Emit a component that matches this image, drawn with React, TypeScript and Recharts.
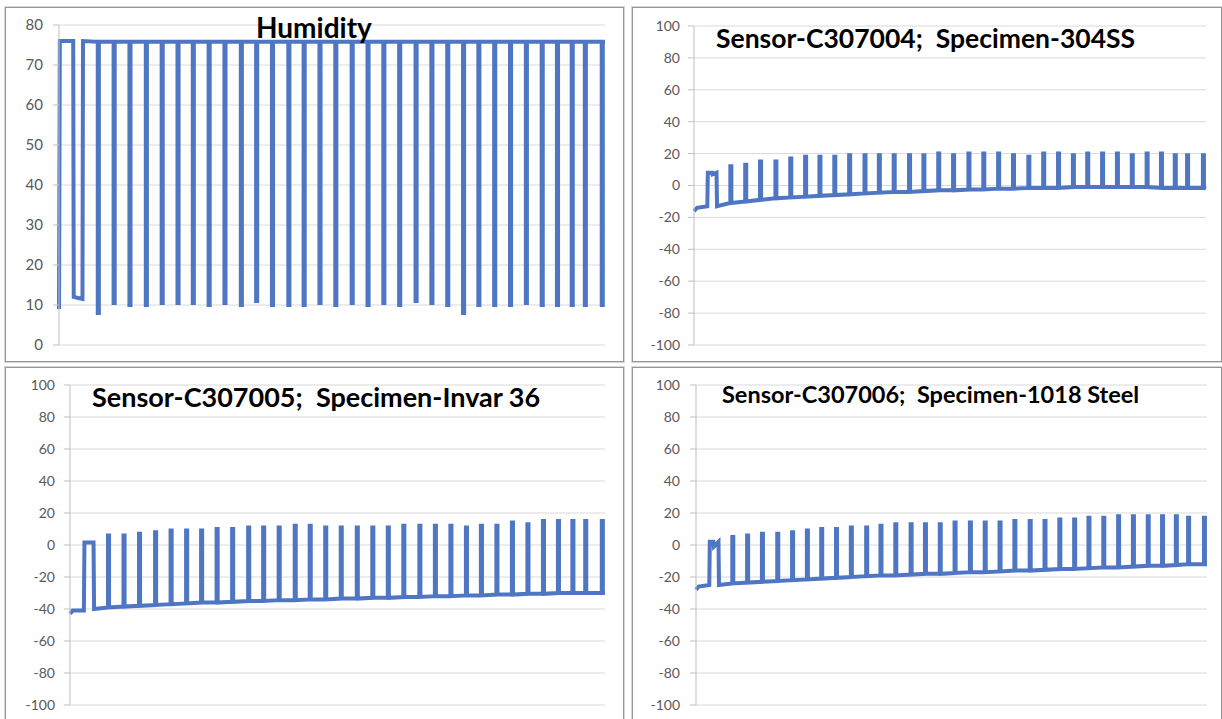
import React from 'react';
import { LineChart, Line, XAxis, YAxis, CartesianGrid } from 'recharts';

// times of the wet/dry cycles, in percent of the whole run (same for all four traces)
const cycleTimes = [
  7.2, 10.1, 13.0, 16.0, 18.9, 21.8, 24.6, 27.5, 30.4, 33.4, 36.2, 39.1, 42.1, 44.9, 47.8, 50.7, 53.7,
  56.6, 59.5, 62.4, 65.4, 68.3, 71.2, 74.1, 76.9, 79.8, 82.7, 85.6, 88.5, 91.3, 94.0, 96.4, 99.5,
];
const pulseWidth = 0.2;

// Humidity
const humidityLeadT = [0, 0.15, 2.6, 2.7, 4.3, 4.4];
const humidityLeadV = [9, 76, 76, 12, 11.5, 76];
const humidityHigh = 75.8;
const humidityLows = [
  8, 10.5, 10, 10, 10.5, 10.5, 10.5, 10, 10.5, 10, 11, 10, 10, 10, 10.5, 10, 10.5, 10, 10.5, 10, 11,
  10.5, 10, 8, 10, 10, 10, 10.5, 10, 10, 10, 10, 10,
];
const humidityTicks = [0, 10, 20, 30, 40, 50, 60, 70, 80];

// Sensor-C307004 / 304SS
const ss304LeadT = [0, 0.6, 2.6, 2.7, 3.5, 3.6, 4.4, 4.5];
const ss304LeadV = [-16, -14, -13, 8, 8, 7, 8, -13];
const ss304Base = [
  -11, -10, -9, -8, -7.5, -7, -6.5, -6, -5.5, -5, -4.5, -4, -4, -3.5, -3, -3, -2.5, -2.5, -2, -2, -1.5,
  -1.5, -1.5, -1, -1, -1, -1, -1, -1, -1.5, -1.5, -1.5, -1.5,
];
const ss304Peak = [
  12, 13, 15, 15, 17, 18, 18, 18, 19, 19, 19, 19, 19, 19, 20, 19, 20, 20, 20, 19, 18, 20, 20, 19, 20,
  20, 20, 19, 20, 20, 19, 19, 19,
];

// Sensor-C307005 / Invar 36
const invarLeadT = [0, 0.5, 2.6, 2.7, 4.4, 4.5];
const invarLeadV = [-43, -41, -41, 1.5, 1.5, -40];
const invarBase = [
  -39, -38.5, -38, -37.5, -37, -36.5, -36, -36, -35.5, -35, -35, -34.5, -34.5, -34, -34, -33.5, -33.5,
  -33, -33, -32.5, -32.5, -32, -32, -31.5, -31.5, -31, -31, -30.5, -30.5, -30, -30, -30, -30,
];
const invarPeak = [
  6, 6, 7, 8, 9, 9, 9, 10, 10, 11, 11, 11, 12, 12, 11, 11, 11, 11, 11, 12, 12, 12, 12, 11, 12, 12, 14,
  13, 15, 15, 15, 15, 15,
];

// Sensor-C307006 / 1018 Steel
const steelLeadT = [0, 0.5, 2.6, 2.7, 3.4, 3.5, 4.4, 4.5];
const steelLeadV = [-28, -26, -25, 2, 2, -1, 2, -25];
const steelBase = [
  -24, -23.5, -23, -22.5, -22, -21.5, -21, -20.5, -20, -19.5, -19, -19, -18.5, -18, -18, -17.5, -17,
  -17, -16.5, -16, -16, -15.5, -15, -15, -14.5, -14, -14, -13.5, -13, -13, -12.5, -12, -12,
];
const steelPeak = [
  5, 6, 7, 7, 8, 9, 10, 10, 11, 11, 12, 13, 13, 13, 13, 14, 14, 14, 14, 15, 15, 15, 16, 16, 17, 17, 18,
  18, 18, 18, 18, 17, 17,
];

const sensorTicks = [-100, -80, -60, -40, -20, 0, 20, 40, 60, 80, 100];

type Pt = { t: number; v: number };

function buildTrace(leadT: number[], leadV: number[], base: number[], peak: number[], endV: number): Pt[] {
  const pts: Pt[] = leadT.map((t, i) => ({ t, v: leadV[i] }));
  cycleTimes.forEach((tc, i) => {
    const a = tc - pulseWidth / 2;
    const b = Math.min(tc + pulseWidth / 2, 100);
    pts.push({ t: a, v: base[i] }, { t: a, v: peak[i] }, { t: b, v: peak[i] }, { t: b, v: base[i] });
  });
  pts.push({ t: 100, v: endV });
  return pts;
}

const humidityData = buildTrace(
  humidityLeadT,
  humidityLeadV,
  humidityLows.map(() => humidityHigh),
  humidityLows,
  humidityHigh
);
const ss304Data = buildTrace(ss304LeadT, ss304LeadV, ss304Base, ss304Peak, -2);
const invarData = buildTrace(invarLeadT, invarLeadV, invarBase, invarPeak, -30);
const steelData = buildTrace(steelLeadT, steelLeadV, steelBase, steelPeak, -12);

const LINE = '#4f76c2';
const GRID = '#d9d9d9';
const AXIS = '#bfbfbf';
const FONT = 'Lato, "Open Sans", sans-serif';

interface PanelProps {
  data: Pt[];
  left: number;
  top: number;
  plotW: number;
  plotH: number;
  domain: [number, number];
  ticks: number[];
  fontSize: number;
  gap: number;
}

const AXIS_W = 50;
const PAD = 12;

const Panel: React.FC<PanelProps> = ({ data, left, top, plotW, plotH, domain, ticks, fontSize, gap }) => (
  <div style={{ position: 'absolute', left: left - AXIS_W, top: top - PAD }}>
    <LineChart
      width={AXIS_W + plotW + 5}
      height={plotH + PAD * 2}
      data={data}
      margin={{ top: PAD, right: 5, bottom: PAD, left: 0 }}
    >
      <CartesianGrid vertical={false} stroke={GRID} />
      <XAxis dataKey="t" type="number" domain={[0, 100]} hide />
      <YAxis
        type="number"
        domain={domain}
        ticks={ticks}
        interval={0}
        width={AXIS_W}
        tickSize={6}
        tickMargin={gap - 6}
        axisLine={{ stroke: AXIS }}
        tickLine={{ stroke: AXIS }}
        tick={{ fill: '#595959', fontSize, fontFamily: FONT }}
      />
      <Line
        type="linear"
        dataKey="v"
        stroke={LINE}
        strokeWidth={4}
        dot={false}
        isAnimationActive={false}
      />
    </LineChart>
  </div>
);

const frame = (left: number, top: number, width: number, height: number): React.CSSProperties => ({
  position: 'absolute',
  left,
  top,
  width,
  height,
  border: '1px solid #979797',
  boxShadow: '0 0 0 1px #d6d6d6',
  boxSizing: 'border-box',
});

export default function App() {
  return (
    <div style={{ position: 'absolute', left: 0, top: 0, width: 1222, height: 719, overflow: 'hidden', background: '#fff' }}>
      <div style={frame(5, 7, 619, 355)} />
      <div style={frame(632, 7, 590, 355)} />
      <div style={frame(5, 367, 619, 360)} />
      <div style={frame(632, 367, 590, 360)} />

      <Panel data={humidityData} left={59} top={25} plotW={546} plotH={320} domain={[0, 80]} ticks={humidityTicks} fontSize={15} gap={16} />
      <Panel data={ss304Data} left={694} top={26} plotW={512} plotH={319} domain={[-100, 100]} ticks={sensorTicks} fontSize={14} gap={14} />
      <Panel data={invarData} left={70} top={385} plotW={535} plotH={320} domain={[-100, 100]} ticks={sensorTicks} fontSize={14} gap={15} />
      <Panel data={steelData} left={696} top={385} plotW={511} plotH={320} domain={[-100, 100]} ticks={sensorTicks} fontSize={14} gap={16} />

      <svg width={1222} height={719} style={{ position: 'absolute', left: 0, top: 0, pointerEvents: 'none' }}>
        <g fontFamily={FONT} fontWeight="bold" fill="#000">
          <text x={256} y={38} fontSize={28}>Humidity</text>
          <text x={716} y={48} fontSize={26.5}>{'Sensor-C307004;\u00a0 Specimen-304SS'}</text>
          <text x={92} y={407} fontSize={27}>{'Sensor-C307005;\u00a0 Specimen-Invar 36'}</text>
          <text x={722} y={403} fontSize={23.5}>{'Sensor-C307006;\u00a0 Specimen-1018 Steel'}</text>
        </g>
      </svg>
    </div>
  );
}
